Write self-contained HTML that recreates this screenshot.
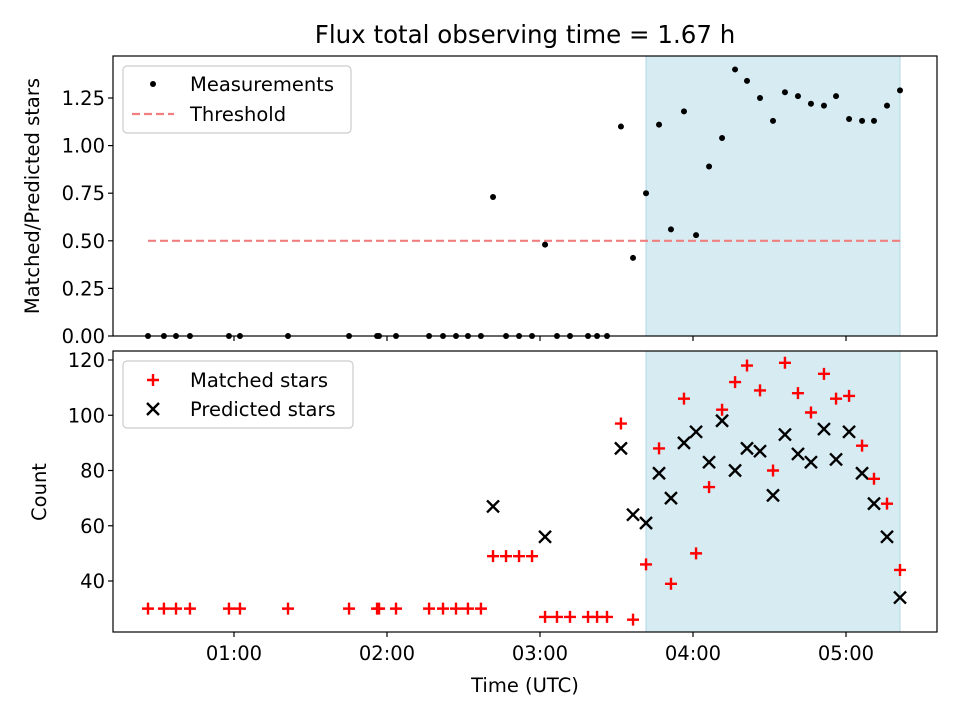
<!DOCTYPE html>
<html><head><meta charset="utf-8"><style>
body{margin:0;background:#fff}
svg{display:block;font-family:"DejaVu Sans","Liberation Sans",sans-serif}
</style></head><body>
<svg id="chart" width="960" height="720" viewBox="0 0 960 720" xmlns="http://www.w3.org/2000/svg"></svg>
<script>
const times=[0.438,0.542,0.621,0.712,0.967,1.039,1.353,1.752,1.935,1.948,2.059,2.275,2.366,2.451,2.529,2.614,2.693,2.778,2.863,2.948,3.033,3.111,3.196,3.314,3.373,3.438,3.529,3.608,3.693,3.778,3.856,3.941,4.020,4.105,4.190,4.275,4.353,4.438,4.523,4.601,4.686,4.771,4.856,4.935,5.020,5.105,5.183,5.268,5.353];
const matched=[30,30,30,30,30,30,30,30,30,30,30,30,30,30,30,30,49,49,49,49,27,27,27,27,27,27,97,26,46,88,39,106,50,74,102,112,118,109,80,119,108,101,115,106,107,89,77,68,44];
const predicted=[null,null,null,null,null,null,null,null,null,null,null,null,null,null,null,null,67,null,null,null,56,null,null,null,null,null,88,64,61,79,70,90,94,83,98,80,88,87,71,93,86,83,95,84,94,79,68,56,34];
const ratio=[0,0,0,0,0,0,0,0,0,0,0,0,0,0,0,0,0.73,0,0,0,0.48,0,0,0,0,0,1.10,0.41,0.75,1.11,0.56,1.18,0.53,0.89,1.04,1.40,1.34,1.25,1.13,1.28,1.26,1.22,1.21,1.26,1.14,1.13,1.13,1.21,1.29];
const threshold=[0.5];
const shadeSpan=[3.693,5.353];
const xTickVals=[1,2,3,4,5];
const xTickLabels=["01:00","02:00","03:00","04:00","05:00"];
const topTicks=[0,0.25,0.5,0.75,1.0,1.25];
const topTickLabels=["0.00","0.25","0.50","0.75","1.00","1.25"];
const botTicks=[40,60,80,100,120];

const NS="http://www.w3.org/2000/svg";
const svg=document.getElementById('chart');
function el(tag,attrs,parent){const e=document.createElementNS(NS,tag);for(const k in attrs)e.setAttribute(k,attrs[k]);(parent||svg).appendChild(e);return e;}
const L=113,R=937,FS=19.5;
const xS=h=>234+(h-1)*153;
const topY=v=>336-v*190.4;
const botY=v=>581-(v-40)*2.7625;
const P1={t:56,b:336},P2={t:351,b:632};

let t=el('text',{x:525,y:43,'text-anchor':'middle','font-size':24.5});
t.textContent='Flux total observing time = 1.67 h';



function panel(P,name){
  const g=el('g',{});
  
  
  const s=el('rect',{x:xS(shadeSpan[0]),y:P.t,width:xS(shadeSpan[1])-xS(shadeSpan[0]),height:P.b-P.t,fill:'#add8e6','fill-opacity':0.5,stroke:'#add8e6','stroke-width':1},g);
  
  
  return g;
}
function frame(P,g){
  el('rect',{x:L,y:P.t,width:R-L,height:P.b-P.t,fill:'none',stroke:'#000','stroke-width':1.2},g);
  xTickVals.forEach(v=>el('line',{x1:xS(v),x2:xS(v),y1:P.b,y2:P.b+5,stroke:'#000','stroke-width':1.2},g));
}
const g1=panel(P1,'ratio-panel');
const thr=el('line',{x1:xS(times[0]),x2:xS(times[times.length-1]),y1:topY(threshold[0]),y2:topY(threshold[0]),stroke:'#f08080','stroke-width':2.2,'stroke-dasharray':'8,4'},g1);


times.forEach((h,i)=>{
  const c=el('circle',{cx:xS(h),cy:topY(ratio[i]),r:3,fill:'#000'},g1);
  
  
});
frame(P1,g1);
topTicks.forEach((v,i)=>{
  el('line',{x1:L-5,x2:L,y1:topY(v),y2:topY(v),stroke:'#000','stroke-width':1.2},g1);
  const tx=el('text',{x:L-8,y:topY(v)+7,'text-anchor':'end','font-size':FS},g1);
  tx.textContent=topTickLabels[i];
  
  
});
let yl=el('text',{x:0,y:0,'text-anchor':'middle','font-size':FS,transform:'translate(39,196) rotate(-90)'});
yl.textContent='Matched/Predicted stars';



const g2=panel(P2,'count-panel');
times.forEach((h,i)=>{
  const x=xS(h),y=botY(matched[i]);
  const p=el('path',{d:`M${x-6},${y}H${x+6}M${x},${y-6}V${y+6}`,stroke:'#f00','stroke-width':2.4,fill:'none'},g2);
  
  
  if(predicted[i]!==null){
    const y2=botY(predicted[i]);
    const q=el('path',{d:`M${x-6},${y2-6}L${x+6},${y2+6}M${x-6},${y2+6}L${x+6},${y2-6}`,stroke:'#000','stroke-width':2.4,fill:'none'},g2);
    
    
  }
});
frame(P2,g2);
botTicks.forEach(v=>{
  el('line',{x1:L-5,x2:L,y1:botY(v),y2:botY(v),stroke:'#000','stroke-width':1.2},g2);
  const tx=el('text',{x:L-8,y:botY(v)+7,'text-anchor':'end','font-size':FS},g2);
  tx.textContent=String(v);
  
  
});
xTickVals.forEach((v,i)=>{
  const tx=el('text',{x:xS(v),y:P2.b+28,'text-anchor':'middle','font-size':FS},g2);
  tx.textContent=xTickLabels[i];
  
  
});
let yl2=el('text',{x:0,y:0,'text-anchor':'middle','font-size':FS,transform:'translate(46,492) rotate(-90)'});
yl2.textContent='Count';


let xl=el('text',{x:525,y:692,'text-anchor':'middle','font-size':FS});
xl.textContent='Time (UTC)';



const lg1=el('g',{});


el('rect',{x:123,y:66,width:228,height:67,rx:4,fill:'#fff','fill-opacity':0.8,stroke:'#ccc','stroke-width':1.2},lg1);
el('circle',{cx:153,cy:84,r:3,fill:'#000'},lg1);
el('line',{x1:132,x2:174,y1:114,y2:114,stroke:'#f08080','stroke-width':2.2,'stroke-dasharray':'8,4'},lg1);
let a=el('text',{x:190,y:91,'font-size':FS},lg1);a.textContent='Measurements';
let b=el('text',{x:190,y:121,'font-size':FS},lg1);b.textContent='Threshold';

const lg2=el('g',{});


el('rect',{x:123,y:361,width:230,height:67,rx:4,fill:'#fff','fill-opacity':0.8,stroke:'#ccc','stroke-width':1.2},lg2);
el('path',{d:'M147,380H159M153,374V386',stroke:'#f00','stroke-width':2.4},lg2);
el('path',{d:'M147,403L159,415M147,415L159,403',stroke:'#000','stroke-width':2.4},lg2);
let c2=el('text',{x:190,y:387,'font-size':FS},lg2);c2.textContent='Matched stars';
let d2=el('text',{x:190,y:416,'font-size':FS},lg2);d2.textContent='Predicted stars';
</script>
</body></html>
